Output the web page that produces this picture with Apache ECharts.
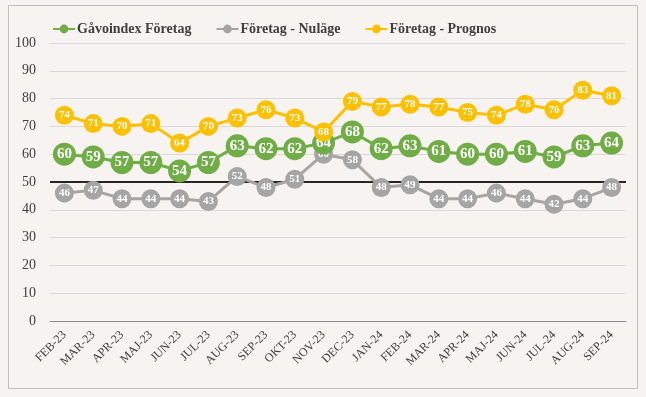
<!DOCTYPE html>
<html><head><meta charset="utf-8">
<script src="https://cdn.jsdelivr.net/npm/echarts@6/dist/echarts.min.js"></script>
<style>html,body{margin:0;padding:0;background:#f6f3f0;}#c{width:646px;height:397px;}</style>
</head><body><div id="c"></div>
<script>
const categories = ['FEB-23','MAR-23','APR-23','MAJ-23','JUN-23','JUL-23','AUG-23','SEP-23','OKT-23','NOV-23','DEC-23','JAN-24','FEB-24','MAR-24','APR-24','MAJ-24','JUN-24','JUL-24','AUG-24','SEP-24'];
const gavoindex = [60,59,57,57,54,57,63,62,62,64,68,62,63,61,60,60,61,59,63,64];
const nulage = [46,47,44,44,44,43,52,48,51,60,58,48,49,44,44,46,44,42,44,48];
const prognos = [74,71,70,71,64,70,73,76,73,68,79,77,78,77,75,74,78,76,83,81];
const seriesNames = ['Gåvoindex Företag','Företag - Nuläge','Företag - Prognos'];
const refLine = 50;

const font = '"Liberation Serif", "DejaVu Serif", serif';
const chart = echarts.init(document.getElementById('c'));
function mk(name, data, color, size, fs, z){
  return {name, type:'line', data, z, symbol:'circle', symbolSize:size,
    itemStyle:{color}, lineStyle:{color, width:3},
    label:{show:true, position:'inside', color:'#fff', fontWeight:'bold', fontSize:fs, fontFamily:font},
    emphasis:{disabled:true}, animation:false};
}
const s1 = mk(seriesNames[0], gavoindex, '#70ad47', 23, 15, 3);
s1.markLine = {silent:true, symbol:'none', label:{show:false}, lineStyle:{color:'#262626', width:2, type:'solid'}, data:[{yAxis:refLine}], z:1};
chart.setOption({
  backgroundColor:'#f6f3f0',
  animation:false,
  graphic:[{type:'rect', shape:{x:8.5,y:5.5,width:629,height:383}, style:{fill:null, stroke:'#bfbfbf', lineWidth:1}, z:-1}],
  legend:{top:17, left:47, itemGap:24, itemWidth:22, itemHeight:11,
    data:seriesNames,
    textStyle:{fontFamily:font, fontWeight:'bold', fontSize:14, color:'#404040', padding:[0,0,0,-3]}},
  grid:{left:50, right:20, top:43, bottom:76},
  xAxis:{type:'category', data:categories, boundaryGap:true,
    axisLine:{lineStyle:{color:'#8c8c8c', width:1}}, axisTick:{show:false},
    axisLabel:{rotate:45, interval:0, fontFamily:font, fontSize:12, color:'#404040', margin:12}},
  yAxis:{type:'value', min:0, max:100, interval:10,
    axisLine:{show:false}, axisTick:{show:false},
    splitLine:{lineStyle:{color:'#d9d9d9', width:1}},
    axisLabel:{fontFamily:font, fontSize:14, color:'#404040', margin:14}},
  series:[
    s1,
    mk(seriesNames[1], nulage, '#a5a5a5', 19, 11, 2),
    mk(seriesNames[2], prognos, '#ffc000', 19, 11, 4)
  ]
});
</script></body></html>
